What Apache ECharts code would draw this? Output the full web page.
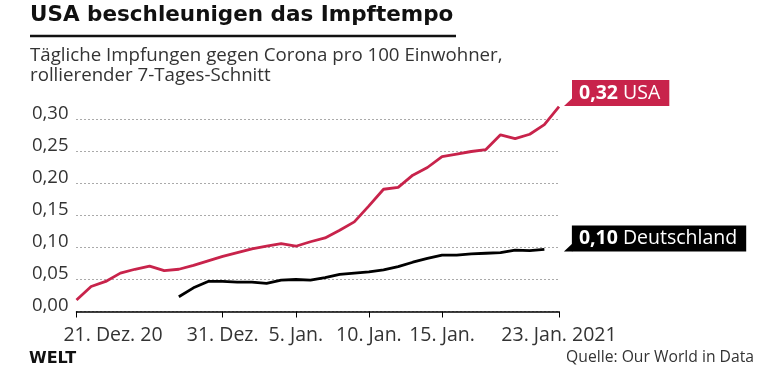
<!DOCTYPE html>
<html>
<head>
<meta charset="utf-8">
<script src="https://cdn.jsdelivr.net/npm/echarts@6/dist/echarts.min.js"></script>
<style>
  html, body { margin: 0; padding: 0; background: #fff; }
  #chart { width: 780px; height: 373px; }
</style>
</head>
<body>
<div id="chart"></div>
<script>
// ---- data ----
const dates = [
  '2020-12-21','2020-12-22','2020-12-23','2020-12-24','2020-12-25','2020-12-26','2020-12-27',
  '2020-12-28','2020-12-29','2020-12-30','2020-12-31','2021-01-01','2021-01-02','2021-01-03',
  '2021-01-04','2021-01-05','2021-01-06','2021-01-07','2021-01-08','2021-01-09','2021-01-10',
  '2021-01-11','2021-01-12','2021-01-13','2021-01-14','2021-01-15','2021-01-16','2021-01-17',
  '2021-01-18','2021-01-19','2021-01-20','2021-01-21','2021-01-22','2021-01-23'
];
const usa = [
  0.018, 0.039, 0.047, 0.060, 0.066, 0.071, 0.064,
  0.066, 0.072, 0.079, 0.086, 0.092, 0.098, 0.102,
  0.106, 0.102, 0.109, 0.115, 0.127, 0.140, 0.165,
  0.191, 0.194, 0.213, 0.225, 0.242, 0.246, 0.250,
  0.253, 0.276, 0.270, 0.277, 0.292, 0.320
];
const deutschland = [
  null, null, null, null, null, null, null,
  0.023, 0.037, 0.047, 0.047, 0.046, 0.046, 0.044,
  0.049, 0.050, 0.049, 0.053, 0.058, 0.060, 0.062,
  0.065, 0.070, 0.077, 0.083, 0.088, 0.088, 0.090,
  0.091, 0.092, 0.096, 0.095, 0.097, null
];
const seriesNames = ['USA', 'Deutschland'];
const tickDates = ['2020-12-21', '2020-12-31', '2021-01-05', '2021-01-10', '2021-01-15', '2021-01-23'];
const tickLabels = ['21. Dez. 20', '31. Dez.', '5. Jan.', '10. Jan.', '15. Jan.', '23. Jan. 2021'];
const yTicks = [0, 0.05, 0.10, 0.15, 0.20, 0.25, 0.30];

const RED = '#c8234b';
const BLACK = '#000000';
const FONT = '"Open Sans", Lato, sans-serif';
const TITLE_FONT = '"DejaVu Sans", sans-serif';

function fmt(v) { return v.toFixed(2).replace('.', ','); }
function lastVal(arr) { for (let i = arr.length - 1; i >= 0; i--) if (arr[i] != null) return arr[i]; return null; }
function lastIdx(arr) { for (let i = arr.length - 1; i >= 0; i--) if (arr[i] != null) return i; return -1; }

const tickSet = new Set(tickDates);

const chart = echarts.init(document.getElementById('chart'), null, { renderer: 'canvas' });

const labelCfg = [
  { distance: 13, dy: -13.7, color: RED },
  { distance: 27.5, dy: -11, color: BLACK }
];

function endLabel(k) {
  return {
    show: true,
    distance: labelCfg[k].distance,
    offset: [0, labelCfg[k].dy],
    align: 'left',
    verticalAlign: 'middle',
    formatter: function () {
      const v = k === 0 ? lastVal(usa) : lastVal(deutschland);
      return '{b|' + fmt(v) + '}{n| ' + seriesNames[k] + '}';
    },
    backgroundColor: labelCfg[k].color,
    padding: [0, 9, 0, 7],
    lineHeight: 26,
    height: 26,
    rich: {
      b: { fontFamily: FONT, fontWeight: 'bold', fontSize: 19.5, color: '#fff', lineHeight: 26 },
      n: { fontFamily: FONT, fontWeight: 'normal', fontSize: 19.5, color: '#fff', lineHeight: 26 }
    }
  };
}

const option = {
  animation: false,
  backgroundColor: '#fff',
  grid: { left: 76.5, right: 221, top: 119.5, bottom: 61.5 },
  xAxis: {
    type: 'category',
    data: dates,
    boundaryGap: false,
    axisLine: { show: true, lineStyle: { color: '#000', width: 1.5 } },
    axisTick: {
      show: true, length: 6, lineStyle: { color: '#000', width: 1 },
      interval: function (i, v) { return tickSet.has(v); }
    },
    axisLabel: {
      interval: function (i, v) { return tickSet.has(v); },
      margin: 14,
      color: '#333',
      fontFamily: FONT,
      fontSize: 19.5,
      formatter: function (v) {
        const i = tickDates.indexOf(v);
        if (i === 0) return '{first|' + tickLabels[0] + '}';
        return i >= 0 ? tickLabels[i] : '';
      },
      rich: {
        first: { fontFamily: FONT, fontSize: 19.5, color: '#333', padding: [0, 0, 0, 73] }
      }
    },
    splitLine: { show: false }
  },
  yAxis: {
    type: 'value',
    min: yTicks[0],
    max: yTicks[yTicks.length - 1],
    interval: 0.05,
    axisLine: { show: false },
    axisTick: { show: false },
    axisLabel: {
      formatter: function (v) { return '{v|' + fmt(v) + '}'; },
      color: '#333',
      fontFamily: FONT,
      fontSize: 18.5,
      margin: 8,
      rich: {
        v: { fontFamily: FONT, fontSize: 18.5, color: '#333', padding: [0, 0, 12, 0] }
      }
    },
    splitLine: {
      show: true,
      lineStyle: { color: '#555', width: 1, type: [1, 3] }
    }
  },
  series: [
    {
      name: seriesNames[0], type: 'line', data: usa, clip: false,
      showSymbol: false, symbol: 'none',
      lineStyle: { color: RED, width: 2.8 },
      itemStyle: { color: RED },
      endLabel: endLabel(0),
      z: 3
    },
    {
      name: seriesNames[1], type: 'line', data: deutschland, clip: false,
      showSymbol: false, symbol: 'none', connectNulls: false,
      lineStyle: { color: BLACK, width: 2.8 },
      itemStyle: { color: BLACK },
      endLabel: endLabel(1),
      z: 4
    }
  ],
  graphic: [
    { type: 'text', id: 'title', left: 30, top: 4,
      style: { text: 'USA beschleunigen das Impftempo', fill: '#111', font: 'bold 21.5px ' + TITLE_FONT } },
    { type: 'rect', id: 'rule', shape: { x: 30, y: 34.8, width: 426, height: 2.4 }, style: { fill: '#111' } },
    { type: 'text', id: 'sub1', left: 30, top: 46,
      style: { text: 'Tägliche Impfungen gegen Corona pro 100 Einwohner,', fill: '#333', font: '18.7px ' + FONT } },
    { type: 'text', id: 'sub2', left: 30, top: 66,
      style: { text: 'rollierender 7-Tages-Schnitt', fill: '#333', font: '18.7px ' + FONT } },
    { type: 'text', id: 'welt', left: 29, top: 351,
      style: { text: 'WELT', fill: '#111', font: 'bold 16px "DejaVu Sans", sans-serif' } },
    { type: 'text', id: 'src', right: 26, top: 350,
      style: { text: 'Quelle: Our World in Data', fill: '#333', font: '15.7px ' + FONT } }
  ]
};

chart.setOption(option);

// tails of the end-label flags, placed from the library's own pixel conversion
function tailFor(k, arr) {
  const i = lastIdx(arr);
  const p = chart.convertToPixel({ gridIndex: 0 }, [i, arr[i]]);
  const left = p[0] + labelCfg[k].distance;
  const bottom = p[1] + labelCfg[k].dy + 13;
  return {
    type: 'polygon', id: 'tail' + k,
    shape: { points: [[left - 8, bottom], [left + 0.5, bottom], [left + 0.5, bottom - 8]] },
    style: { fill: labelCfg[k].color }, z: 10
  };
}
chart.setOption({ graphic: [tailFor(0, usa), tailFor(1, deutschland)] });
</script>
</body>
</html>
